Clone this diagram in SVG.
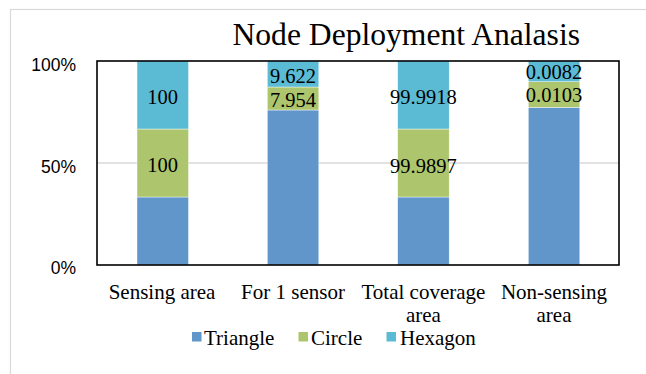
<svg xmlns="http://www.w3.org/2000/svg" width="646" height="374" viewBox="0 0 646 374">
<style>
.serif{font-family:"Liberation Serif","Times New Roman",serif;fill:#000}
.sans{font-family:"Liberation Sans",Arial,sans-serif;fill:#000}
.tri{fill:#6096ca}
.cir{fill:#adc66d}
.hex{fill:#5cbbd4}
.seg{stroke:#ffffff;stroke-width:0.6;stroke-opacity:0.7}
.val{font-size:20.5px;text-anchor:middle}
.cat{font-size:21px;text-anchor:middle}
.tick{font-size:17.5px;text-anchor:end}
.leg{font-size:21px}
</style>
<rect x="0" y="0" width="646" height="374" fill="#ffffff"/>
<rect x="10.5" y="9.5" width="700" height="420" fill="none" stroke="#d9d9d9" stroke-width="1.2"/>
<text id="title" class="serif" x="232.5" y="45" font-size="31.6px">Node Deployment Analasis</text>
<g id="axis">
<line x1="97" y1="163" x2="619" y2="163" stroke="#d9d9d9" stroke-width="1.5"/>
<text class="sans tick" x="76" y="70.5">100%</text>
<text class="sans tick" x="76" y="172.5">50%</text>
<text class="sans tick" x="76" y="274">0%</text>
</g>
<g id="bar-sensing">
<rect class="tri seg" x="137" y="197" width="51.5" height="68"/>
<rect class="cir seg" x="137" y="129" width="51.5" height="68"/>
<rect class="hex seg" x="137" y="61" width="51.5" height="68"/>
<text class="serif val" x="162.7" y="104.3">100</text>
<text class="serif val" x="162.7" y="172.3">100</text>
</g>
<g id="bar-sensor">
<rect class="tri seg" x="267.3" y="110" width="51.5" height="155"/>
<rect class="cir seg" x="267.3" y="87" width="51.5" height="23"/>
<rect class="hex seg" x="267.3" y="61" width="51.5" height="26"/>
<text class="serif val" x="293" y="83">9.622</text>
<text class="serif val" x="293" y="106.5">7.954</text>
</g>
<g id="bar-total">
<rect class="tri seg" x="397.7" y="197" width="51.5" height="68"/>
<rect class="cir seg" x="397.7" y="129" width="51.5" height="68"/>
<rect class="hex seg" x="397.7" y="61" width="51.5" height="68"/>
<text class="serif val" x="423.4" y="104.3">99.9918</text>
<text class="serif val" x="423.4" y="172.5">99.9897</text>
</g>
<g id="bar-nonsensing">
<rect class="tri seg" x="528.3" y="107.3" width="51.5" height="157.7"/>
<rect class="cir seg" x="528.3" y="81.7" width="51.5" height="25.6"/>
<rect class="hex seg" x="528.3" y="61" width="51.5" height="20.7"/>
<text class="serif val" x="554" y="79.3">0.0082</text>
<text class="serif val" x="554" y="102.3">0.0103</text>
</g>
<rect id="plot-frame" x="97" y="61" width="522" height="204" fill="none" stroke="#000" stroke-width="1.6"/>
<g id="categories">
<text class="serif cat" x="162" y="299">Sensing area</text>
<text class="serif cat" x="293" y="299">For 1 sensor</text>
<text class="serif cat" x="423.4" y="299">Total coverage</text>
<text class="serif cat" x="423.4" y="322">area</text>
<text class="serif cat" x="554" y="299">Non-sensing</text>
<text class="serif cat" x="554" y="322">area</text>
</g>
<g id="legend">
<rect class="tri" x="192" y="332" width="9.5" height="9.5"/>
<text class="serif leg" x="204" y="344.5">Triangle</text>
<rect class="cir" x="298.5" y="332" width="9.5" height="9.5"/>
<text class="serif leg" x="311" y="344.5">Circle</text>
<rect class="hex" x="386.5" y="332" width="9.5" height="9.5"/>
<text class="serif leg" x="400" y="344.5">Hexagon</text>
</g>
</svg>
